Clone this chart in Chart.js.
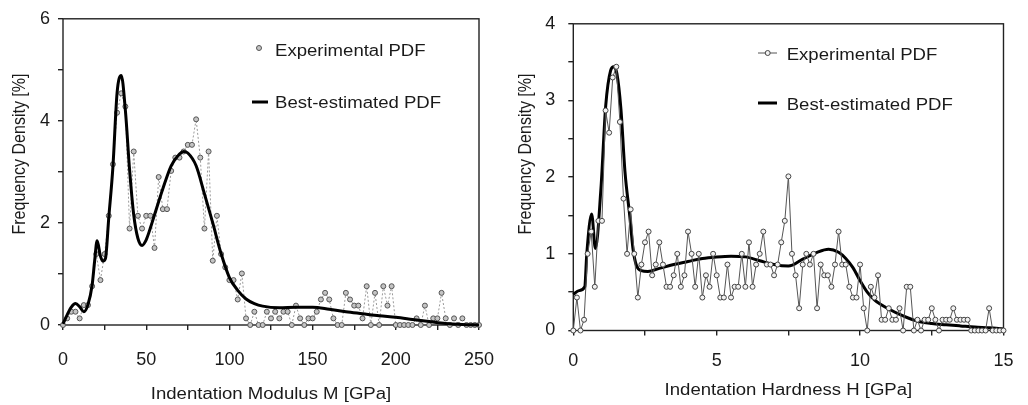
<!DOCTYPE html>
<html><head><meta charset="utf-8">
<script src="https://cdn.jsdelivr.net/npm/chart.js@4.4.1/dist/chart.umd.min.js"></script>
<style>
html,body{margin:0;padding:0;background:#fff;}
#wrap{position:relative;width:1028px;height:405px;overflow:hidden;}
.box{position:absolute;top:0;height:405px;width:514px;}
</style></head>
<body><div id="wrap">
<div class="box" style="left:0"><canvas id="c1"></canvas></div>
<div class="box" style="left:514px"><canvas id="c2"></canvas></div>
</div>
<script>
// ---------- data: indentation modulus (left) ----------
const modulusBins = [
  0,2.5,5,7.5,10,12.5,15,17.5,20,22.5,
  25,27.5,30,32.5,35,37.5,40,42.5,45,47.5,
  50,52.5,55,57.5,60,62.5,65,67.5,70,72.5,
  75,77.5,80,82.5,85,87.5,90,92.5,95,97.5,
  100,102.5,105,107.5,110,112.5,115,117.5,120,122.5,
  125,127.5,130,132.5,135,137.5,140,142.5,145,147.5,
  150,152.5,155,157.5,160,162.5,165,167.5,170,172.5,
  175,177.5,180,182.5,185,187.5,190,192.5,195,197.5,
  200,202.5,205,207.5,210,212.5,215,217.5,220,222.5,
  225,227.5,230,232.5,235,237.5,240,242.5,245,247.5,
  250];
const modulusExp = [
  0,0.13,0.26,0.26,0.13,0.39,0.39,0.76,1.39,0.88,
  1.39,2.14,3.15,4.16,4.54,4.28,1.89,3.40,2.14,1.89,
  2.14,2.14,1.51,2.90,2.27,2.27,3.02,3.28,3.28,3.40,
  3.53,3.53,4.03,3.28,1.89,3.40,1.26,2.14,1.39,1.13,
  0.88,0.88,0.50,1.01,0.13,0,0.26,0,0,0.26,
  0.13,0.26,0.13,0.26,0.26,0,0.38,0.13,0,0.13,
  0.13,0.26,0.50,0.63,0.50,0.13,0,0,0.63,0.50,
  0.38,0.38,0.13,0.76,0,0.63,0,0.76,0.38,0.76,
  0,0,0,0,0,0.13,0,0.38,0,0.13,
  0.13,0.63,0.13,0,0.13,0,0.13,0,0,0,
  0];
const modulusFitX = [0,2.5,5,7.5,10,12.5,15,17.5,19,20.5,22.5,24,25.5,27.5,30,32.5,35,37.5,40,42.5,45,47.5,50,52.5,55,60,65,70,72.5,75,80,85,90,95,100,105,110,115,120,130,140,150,160,170,180,190,200,210,220,230,240,250];
const modulusFitY = [0.02,0.2,0.35,0.42,0.36,0.26,0.4,0.78,1.25,1.65,1.35,1.25,1.3,2.1,3.1,4.55,4.89,4.2,3.05,2.16,1.7,1.56,1.67,1.9,2.16,2.67,3.12,3.35,3.4,3.37,3.12,2.57,2.0,1.4,0.93,0.68,0.51,0.42,0.37,0.34,0.35,0.35,0.31,0.26,0.22,0.18,0.15,0.11,0.07,0.03,0.01,0];
const modulusTicksX = [0,50,100,150,200,250];
const modulusTicksY = [0,2,4,6];

// ---------- data: indentation hardness (right) ----------
const hardnessBins = [
  0,0.125,0.25,0.375,0.5,0.625,0.75,0.875,
  1,1.125,1.25,1.375,1.5,1.625,1.75,1.875,
  2,2.125,2.25,2.375,2.5,2.625,2.75,2.875,
  3,3.125,3.25,3.375,3.5,3.625,3.75,3.875,
  4,4.125,4.25,4.375,4.5,4.625,4.75,4.875,
  5,5.125,5.25,5.375,5.5,5.625,5.75,5.875,
  6,6.125,6.25,6.375,6.5,6.625,6.75,6.875,
  7,7.125,7.25,7.375,7.5,7.625,7.75,7.875,
  8,8.125,8.25,8.375,8.5,8.625,8.75,8.875,
  9,9.125,9.25,9.375,9.5,9.625,9.75,9.875,
  10,10.125,10.25,10.375,10.5,10.625,10.75,10.875,
  11,11.125,11.25,11.375,11.5,11.625,11.75,11.875,
  12,12.125,12.25,12.375,12.5,12.625,12.75,12.875,
  13,13.125,13.25,13.375,13.5,13.625,13.75,13.875,
  14,14.125,14.25,14.375,14.5,14.625,14.75,14.875,
  15];
const hardnessExp = [
  0,0.43,0,0.14,1.00,1.29,0.57,1.43,
  1.43,2.87,2.58,3.30,3.44,2.72,1.72,1.00,
  1.58,1.00,0.43,0.86,1.15,1.29,0.72,0.86,
  1.15,0.86,0.57,0.57,0.72,1.00,0.57,0.72,
  1.29,1.00,0.57,1.00,0.43,0.72,0.57,1.00,
  0.72,0.43,0.43,0.86,0.43,0.57,0.57,1.00,
  0.57,1.15,0.57,0.86,1.00,1.29,0.86,0.86,
  0.72,0.86,1.15,1.43,2.01,1.00,0.72,0.29,
  0.86,1.00,0.86,1.00,0.29,0.86,0.72,0.72,
  0.57,0.86,1.29,0.86,0.86,0.57,0.43,0.43,
  0.86,0.29,0,0.57,0.43,0.72,0.14,0.14,
  0.29,0.14,0.14,0.29,0,0.57,0.57,0,
  0.14,0,0.14,0.14,0.29,0.14,0,0.14,
  0.14,0.14,0.29,0.14,0.14,0.14,0.14,0,
  0,0,0,0,0.29,0,0,0,
  0];
const hardnessFitX = [0,0.2,0.4,0.47,0.64,0.77,0.96,1.13,1.3,1.41,1.52,1.66,1.8,1.97,2.08,2.2,2.37,2.6,3,3.5,4,4.5,5,5.5,6,6.5,7,7.5,8,8.5,8.9,9.25,9.5,9.75,10,10.25,10.5,11,11.5,12,12.5,13,13.5,14,14.5,15];
const hardnessFitY = [0.47,0.52,0.57,1.0,1.52,1.07,1.83,2.93,3.39,3.44,3.35,2.89,2.08,1.49,1.07,0.85,0.78,0.77,0.81,0.86,0.9,0.94,0.96,0.97,0.96,0.91,0.86,0.84,0.93,1.02,1.06,1.02,0.94,0.82,0.65,0.5,0.4,0.28,0.19,0.12,0.09,0.075,0.06,0.045,0.035,0.02];
const hardnessTicksX = [0,5,10,15];
const hardnessTicksY = [0,1,2,3,4];

const legendLabels = ['Experimental PDF', 'Best-estimated PDF'];
const xTitles = ['Indentation Modulus M [GPa]', 'Indentation Hardness H [GPa]'];
const yTitle = 'Frequency Density [%]';

// ---------- helpers ----------
const FONT = '"Liberation Sans", Arial, Helvetica, sans-serif';
const TXT = '#1a1a1a';
function pts(xs, ys){ return xs.map((x,i)=>({x:x, y:ys[i]})); }
function stext(ctx, str, x, y, size, sx){
  ctx.save(); ctx.translate(x, y); ctx.scale(sx, 1);
  ctx.font = size + 'px ' + FONT; ctx.fillStyle = TXT;
  ctx.textAlign = 'left'; ctx.textBaseline = 'alphabetic';
  ctx.fillText(str, 0, 0); ctx.restore();
}
function stextC(ctx, str, x, y, size, sx){
  ctx.save(); ctx.translate(x,y); ctx.scale(sx,1);
  ctx.font = size + 'px ' + FONT; ctx.fillStyle = TXT;
  ctx.textAlign = 'center'; ctx.textBaseline = 'alphabetic';
  ctx.fillText(str,0,0); ctx.restore();
}

const deco = {
  id: 'deco',
  beforeDatasetsDraw(chart, args, o){
    const ctx = chart.ctx, a = chart.chartArea;
    ctx.save();
    ctx.strokeStyle = '#222'; ctx.lineWidth = 1.4;
    ctx.strokeRect(a.left, a.top, a.right - a.left, a.bottom - a.top);
    ctx.restore();
  },
  afterDraw(chart, args, o){
    const ctx = chart.ctx, a = chart.chartArea;
    const S = 16, SX = 1.16;
    stextC(ctx, o.xTitle, (a.left + a.right)/2, o.xTitleY, S, SX);
    ctx.save();
    ctx.translate(o.yTitleX, o.yTitleY);
    ctx.scale(SX, 1);
    ctx.rotate(-Math.PI/2);
    ctx.font = S + 'px ' + FONT; ctx.fillStyle = TXT;
    ctx.textAlign = 'center'; ctx.textBaseline = 'alphabetic';
    ctx.fillText(yTitle, 0, 0);
    ctx.restore();
    const L = o.legend;
    ctx.save();
    if (L.expLine){
      ctx.strokeStyle = L.expLineColor; ctx.lineWidth = 1;
      ctx.beginPath(); ctx.moveTo(L.x0, L.y1); ctx.lineTo(L.x1, L.y1); ctx.stroke();
    }
    ctx.beginPath(); ctx.arc(L.cx, L.y1, 2.5, 0, Math.PI*2);
    ctx.fillStyle = L.mFill; ctx.fill();
    ctx.strokeStyle = L.mStroke; ctx.lineWidth = 1; ctx.stroke();
    ctx.strokeStyle = '#000'; ctx.lineWidth = 3;
    ctx.beginPath(); ctx.moveTo(L.lx0, L.y2); ctx.lineTo(L.lx1, L.y2); ctx.stroke();
    ctx.restore();
    stext(ctx, legendLabels[0], L.tx, L.b1, S, SX);
    stext(ctx, legendLabels[1], L.tx, L.b2, S, SX);
  }
};

function makeScales(xmin, xmax, xstep, xlabels, ymin, ymax, ystep, ylabels, ywidth, xheight, ypad, xpad){
  const grid = {display:true, drawOnChartArea:false, drawTicks:true, tickLength:5, color:'#222', lineWidth:1.4};
  const tickFont = {family: FONT, size: 18};
  return {
    x: {type:'linear', min:xmin, max:xmax, border:{display:false}, grid: grid,
        afterFit(s){ s.height = xheight; },
        afterBuildTicks(s){ s.ticks = []; for (let v = xmin; v <= xmax + 1e-9; v += xstep) s.ticks.push({value: +v.toFixed(4)}); },
        ticks:{autoSkip:false, maxRotation:0, minRotation:0, padding:xpad, color:TXT, font:tickFont,
          callback(v){ return xlabels.indexOf(+(+v).toFixed(4)) >= 0 ? String(v) : ''; }}},
    y: {type:'linear', min:ymin, max:ymax, border:{display:false}, grid: grid,
        afterFit(s){ s.width = ywidth; },
        afterBuildTicks(s){ s.ticks = []; for (let v = ymin; v <= ymax + 1e-9; v += ystep) s.ticks.push({value: +v.toFixed(4)}); },
        ticks:{autoSkip:false, padding:ypad, color:TXT, font:tickFont,
          callback(v){ return ylabels.indexOf(+(+v).toFixed(4)) >= 0 ? String(v) : ''; }}}
  };
}

// ---------- left chart ----------
new Chart(document.getElementById('c1'), {
  type: 'scatter',
  data: { datasets: [
    { label: legendLabels[1], data: pts(modulusFitX, modulusFitY), showLine:true,
      borderColor:'#000', borderWidth:3, pointRadius:0, cubicInterpolationMode:'monotone', order:0, clip:false },
    { label: legendLabels[0], data: pts(modulusBins, modulusExp), showLine:true,
      borderColor:'#9a9a9a', borderWidth:1, borderDash:[2,2], pointRadius:2.5, pointHoverRadius:2.5,
      pointBackgroundColor:'#c4c4c4', pointBorderColor:'#555', pointBorderWidth:1, order:1, clip:false }
  ]},
  options: {
    responsive:true, maintainAspectRatio:false, animation:false, events:[],
    layout:{padding:{left:0, right:35, top:14, bottom:0}},
    scales: makeScales(0, 250, 25, modulusTicksX, 0, 6, 1, modulusTicksY, 63, 80, 8, 19),
    plugins: { legend:{display:false}, tooltip:{enabled:false},
      deco: { xTitle: xTitles[0], xTitleY: 399, yTitleX: 25, yTitleY: 154,
        legend: { expLine:false, cx:259, x0:0, x1:0, y1:48, mFill:'#c4c4c4', mStroke:'#555',
                  lx0:252, lx1:268, y2:102, tx:275, b1:55.7, b2:107.7 } } }
  },
  plugins: [deco]
});

// ---------- right chart ----------
new Chart(document.getElementById('c2'), {
  type: 'scatter',
  data: { datasets: [
    { label: legendLabels[0], data: pts(hardnessBins, hardnessExp), showLine:true,
      borderColor:'#555', borderWidth:1, pointRadius:2.5, pointHoverRadius:2.5,
      pointBackgroundColor:'#f2f2f2', pointBorderColor:'#444', pointBorderWidth:1, order:0, clip:false },
    { label: legendLabels[1], data: pts(hardnessFitX, hardnessFitY), showLine:true,
      borderColor:'#000', borderWidth:3, pointRadius:0, cubicInterpolationMode:'monotone', order:1, clip:false }
  ]},
  options: {
    responsive:true, maintainAspectRatio:false, animation:false, events:[],
    layout:{padding:{left:0, right:10.7, top:15.5, bottom:0}},
    scales: makeScales(0, 15, 2.5, hardnessTicksX, 0, 4, 0.5, hardnessTicksY, 59.3, 74.5, 13, 14.5),
    plugins: { legend:{display:false}, tooltip:{enabled:false},
      deco: { xTitle: xTitles[1], xTitleY: 395, yTitleX: 16.5, yTitleY: 154,
        legend: { expLine:true, expLineColor:'#555', cx:253.7, x0:244, x1:263, y1:53, mFill:'#f2f2f2', mStroke:'#444',
                  lx0:244, lx1:263, y2:103, tx:272.7, b1:59.7, b2:109.5 } } }
  },
  plugins: [deco]
});
</script>
</body></html>
